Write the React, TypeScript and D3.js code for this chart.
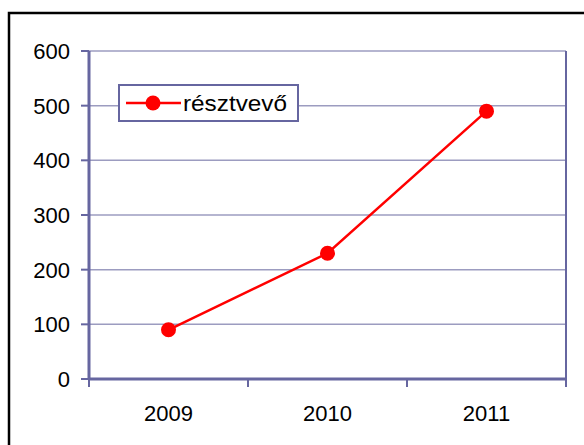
import React from "react";
import * as d3 from "d3";

const categories = ["2009", "2010", "2011"];
const values = [90, 230, 490];
const yTicks = [0, 100, 200, 300, 400, 500, 600];
const seriesName = "résztvevő";

export default function App() {
  const W = 584, H = 445;
  const left = 89, right = 566, top = 51, bottom = 379;
  const x = d3.scaleBand<string>().domain(categories).range([left, right]);
  const y = d3.scaleLinear().domain([0, 600]).range([bottom, top]);
  const axisColor = "#6666A0";
  const gridColor = "#9C9CC0";
  const font = "'Liberation Sans', Arial, sans-serif";
  const line = d3.line<number>()
    .x((_, i) => (x(categories[i]) as number) + x.bandwidth() / 2)
    .y((d) => y(d));
  const catEdges = [...categories.map((c) => x(c) as number), right];
  return (
    <svg width={W} height={H} style={{ position: "absolute", left: 0, top: 0 }}>
      <rect x={0} y={0} width={W} height={H} fill="#fff" />
      <rect x={9} y={13} width={W + 10} height={H + 10} fill="none" stroke="#000" strokeWidth={2.5} />
      {yTicks.slice(1).map((t) => (
        <line key={t} x1={left} x2={right} y1={y(t)} y2={y(t)} stroke={gridColor} strokeWidth={1.5} />
      ))}
      <line x1={right} x2={right} y1={top} y2={bottom} stroke={axisColor} strokeWidth={2} />
      <line x1={left} x2={left} y1={top} y2={bottom + 1} stroke={axisColor} strokeWidth={3} />
      <line x1={left} x2={right + 1} y1={bottom} y2={bottom} stroke={axisColor} strokeWidth={3} />
      {yTicks.map((t) => (
        <g key={t}>
          <line x1={left - 8} x2={left} y1={y(t)} y2={y(t)} stroke={axisColor} strokeWidth={2} />
          <text x={70} y={y(t)} dy="0.36em" textAnchor="end" fontFamily={font} fontSize={22} fill="#000">{t}</text>
        </g>
      ))}
      {catEdges.map((e, i) => (
        <line key={i} x1={e} x2={e} y1={bottom} y2={bottom + 8} stroke={axisColor} strokeWidth={2} />
      ))}
      {categories.map((c) => (
        <text key={c} x={(x(c) as number) + x.bandwidth() / 2} y={421} textAnchor="middle" fontFamily={font} fontSize={22} fill="#000">{c}</text>
      ))}
      <path d={line(values) || ""} fill="none" stroke="#FF0000" strokeWidth={2.5} />
      {values.map((v, i) => (
        <circle key={i} cx={(x(categories[i]) as number) + x.bandwidth() / 2} cy={y(v)} r={7.5} fill="#FF0000" />
      ))}
      <g>
        <rect x={119} y={85} width={179} height={36} fill="#fff" stroke={axisColor} strokeWidth={2} />
        <line x1={126} x2={181} y1={103} y2={103} stroke="#FF0000" strokeWidth={2.5} />
        <circle cx={153} cy={103} r={7.5} fill="#FF0000" />
        <text x={183} y={103} dy="0.36em" fontFamily={font} fontSize={22} textLength={104} lengthAdjust="spacingAndGlyphs" fill="#000">{seriesName}</text>
      </g>
    </svg>
  );
}
